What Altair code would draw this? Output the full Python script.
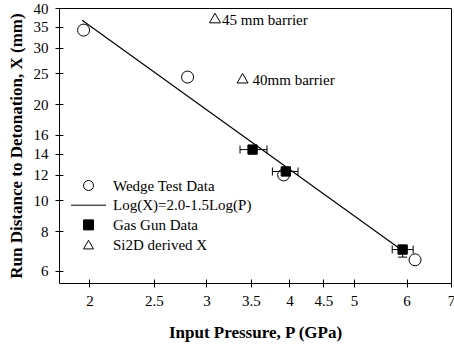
import altair as alt
import pandas as pd

# ---------------- data ----------------
S_W = "Wedge Test Data"
S_L = "Log(X)=2.0-1.5Log(P)"
S_G = "Gas Gun Data"
S_S = "Si2D derived X"
series_names = [S_W, S_L, S_G, S_S]

wedge_p = [1.96, 2.81, 3.92, 6.18]
wedge_x = [34.1, 24.3, 12.0, 6.5]

gas_p = [3.52, 3.95, 5.92]
gas_x = [14.4, 12.3, 7.0]
gas_p_lo = [3.37, 3.77, 5.71]
gas_p_hi = [3.70, 4.12, 6.14]

gas_yerr_p = [5.92]
gas_yerr_lo = [6.63]
gas_yerr_hi = [7.22]

si2d_p = [3.09, 3.40]
si2d_x = [37.2, 24.1]
si2d_labels = ["45 mm barrier", "40mm barrier"]

fit_p = [1.95, 5.95]
fit_x = [36.6, 6.89]

x_ticks = [2, 2.5, 3, 3.5, 4, 4.5, 5, 6, 7]
y_ticks = [6, 8, 10, 12, 14, 16, 20, 25, 30, 35, 40]

FONT = "Liberation Serif"

wedge_df = pd.DataFrame({"P": wedge_p, "X": wedge_x, "series": S_W})
gas_df = pd.DataFrame({"P": gas_p, "X": gas_x, "lo": gas_p_lo, "hi": gas_p_hi, "series": S_G})
gas_y_df = pd.DataFrame({"P": gas_yerr_p, "lo": gas_yerr_lo, "hi": gas_yerr_hi})
si_df = pd.DataFrame({"P": si2d_p, "X": si2d_x, "label": si2d_labels, "series": S_S,
                      "idx": list(range(len(si2d_p)))})
fit_df = pd.DataFrame({"P": fit_p, "X": fit_x})

# ---------------- scales / axes ----------------
xscale = alt.Scale(type="log", domain=[1.8, 7], nice=False)
yscale = alt.Scale(type="log", domain=[5.5, 40], nice=False)

xaxis = alt.Axis(values=x_ticks, format="~g", title="Input Pressure, P (GPa)",
                 grid=False, domain=False, offset=-4, tickSize=8, labelPadding=6,
                 labelOverlap=False, labelFlush=False, titlePadding=16)
yaxis = alt.Axis(values=y_ticks, format="~g", title="Run Distance to Detonation, X (mm)",
                 grid=False, domain=False, offset=-4, tickSize=8, labelPadding=7,
                 labelOverlap=False, labelFlush=False, titlePadding=8)

X = alt.X("P:Q", scale=xscale, axis=xaxis)
Y = alt.Y("X:Q", scale=yscale, axis=yaxis)

shape_scale = alt.Scale(domain=series_names,
                        range=["circle", "M-3.5,0H3.5", "square", "triangle-up"])
fill_scale = alt.Scale(domain=series_names,
                       range=["transparent", "transparent", "black", "transparent"])
stroke_scale = alt.Scale(domain=series_names,
                         range=["black", "black", "black", "black"])
leg = alt.Legend(title=None, orient="none", legendX=22, legendY=170,
                 labelFont=FONT, labelFontSize=15, labelColor="black",
                 symbolSize=100, symbolStrokeWidth=1,
                 labelOffset=17, rowPadding=3.7, padding=0)

SH = alt.Shape("series:N", scale=shape_scale, legend=leg)
FI = alt.Fill("series:N", scale=fill_scale, legend=leg)
ST = alt.Stroke("series:N", scale=stroke_scale, legend=leg)

# ---------------- layers ----------------
wedge = alt.Chart(wedge_df).mark_point(size=144, strokeWidth=1, opacity=1).encode(
    x=X, y=Y, shape=SH, fill=FI, stroke=ST)

fit = alt.Chart(fit_df).mark_line(color="black", strokeWidth=1.2).encode(x=X, y=Y)

gas_bar = alt.Chart(gas_df).mark_rule(color="black", strokeWidth=1).encode(
    x=alt.X("lo:Q", scale=xscale, axis=xaxis), x2="hi:Q", y=Y)
gas_cap_lo = alt.Chart(gas_df).mark_tick(orient="vertical", size=8, thickness=1, color="black",
                                         opacity=1).encode(
    x=alt.X("lo:Q", scale=xscale, axis=xaxis), y=Y)
gas_cap_hi = alt.Chart(gas_df).mark_tick(orient="vertical", size=8, thickness=1, color="black",
                                         opacity=1).encode(
    x=alt.X("hi:Q", scale=xscale, axis=xaxis), y=Y)
gas_vbar = alt.Chart(gas_y_df).mark_rule(color="black", strokeWidth=1).encode(
    x=X, y=alt.Y("lo:Q", scale=yscale, axis=yaxis), y2="hi:Q")
gas_vcap_lo = alt.Chart(gas_y_df).mark_tick(orient="horizontal", size=9, thickness=1, color="black",
                                            opacity=1).encode(
    x=X, y=alt.Y("lo:Q", scale=yscale, axis=yaxis))
gas_vcap_hi = alt.Chart(gas_y_df).mark_tick(orient="horizontal", size=9, thickness=1, color="black",
                                            opacity=1).encode(
    x=X, y=alt.Y("hi:Q", scale=yscale, axis=yaxis))

gas = alt.Chart(gas_df).mark_point(size=87, strokeWidth=1, opacity=1).encode(
    x=X, y=Y, shape=SH, fill=FI, stroke=ST)

si = alt.Chart(si_df).mark_point(size=121, strokeWidth=1, opacity=1).encode(
    x=X, y=Y, shape=SH, fill=FI, stroke=ST)

si_text1 = alt.Chart(si_df).transform_filter("datum.idx == 0").mark_text(
    align="left", baseline="middle", dx=7, dy=2, font=FONT, fontSize=15, color="black").encode(
    x=X, y=Y, text="label:N")
si_text2 = alt.Chart(si_df).transform_filter("datum.idx == 1").mark_text(
    align="left", baseline="middle", dx=10, dy=2, font=FONT, fontSize=15, color="black").encode(
    x=X, y=Y, text="label:N")

chart = alt.layer(
    wedge, fit, gas_bar, gas_cap_lo, gas_cap_hi, gas_vbar, gas_vcap_lo, gas_vcap_hi,
    gas, si, si_text1, si_text2
).properties(
    width=392, height=275,
    autosize=alt.AutoSizeParams(type="none"),
    padding={"left": 59, "top": 8, "right": 3, "bottom": 66},
).configure_view(
    stroke="black", strokeWidth=1
).configure_axis(
    labelFont=FONT, labelFontSize=15, labelColor="black",
    titleFont=FONT, titleFontSize=17, titleFontWeight="bold", titleColor="black",
    tickColor="black", tickWidth=1,
)

chart.save("out.html", embed_options={"renderer": "svg", "actions": False})
